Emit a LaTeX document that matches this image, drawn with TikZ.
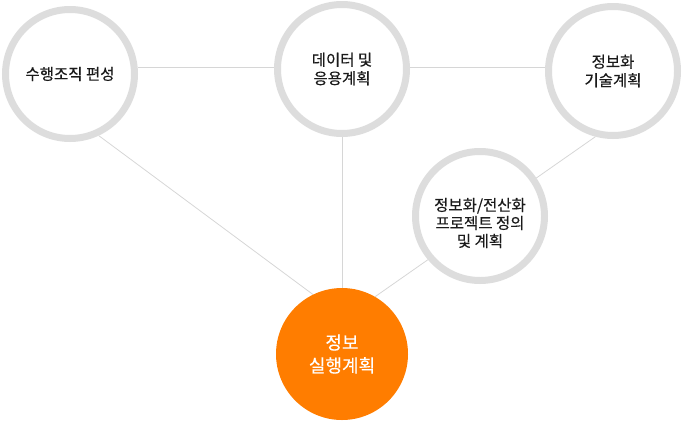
\documentclass[tikz,border=0pt]{standalone}
\usepackage{fontspec}
\setmainfont{Noto Sans CJK KR}[FakeBold=0.35]
\usetikzlibrary{backgrounds}
\definecolor{ringgray}{HTML}{DDDDDD}
\definecolor{linegray}{HTML}{D6D6D6}
\definecolor{orng}{HTML}{FF7D00}
\definecolor{txtc}{HTML}{1A1A1A}
\begin{document}
\begin{tikzpicture}[x=1pt,y=-1pt,
  ring/.style={circle, draw=ringgray, line width=7pt, fill=white, minimum size=129pt,
    inner sep=0pt, align=center, font=\fontsize{15.5}{18.5}\selectfont, text=txtc},
  hub/.style={circle, fill=orng, minimum size=132pt, inner sep=0pt, align=center,
    font=\fontsize{18}{23}\selectfont, text=white},
  link/.style={draw=linegray, line width=0.8pt}]
\useasboundingbox (0,0) rectangle (682,421);
\node[ring] (tl) at (70,74) {수행조직 편성};
\node[ring] (tm) at (342,69) {데이터 및\\응용계획};
\node[ring] (tr) at (613,71) {정보화\\기술계획};
\node[ring, label={[name=mrt, align=center, font=\fontsize{15.5}{18}\selectfont, text=txtc, yshift=-7pt]center:{정보화/전산화\\프로젝트 정의\\및 계획}}] (mr) at (480,216) {};
\node[hub] (or) at (342,354) {정보\\실행계획};
\begin{scope}[on background layer]
  \draw[link] ([yshift=7pt]tl.east) -- ([yshift=2pt]tm.west);
  \draw[link] ([yshift=2pt]tm.east) -- ([yshift=4pt]tr.west);
  \draw[link] (tm.south) -- (or.north);
  \draw[link] (tl.-65) -- (or.116);
  \draw[link] (tr.-105) -- (mr.34);
  \draw[link] (mr.220) -- (or.60);
\end{scope}
\end{tikzpicture}
\end{document}
